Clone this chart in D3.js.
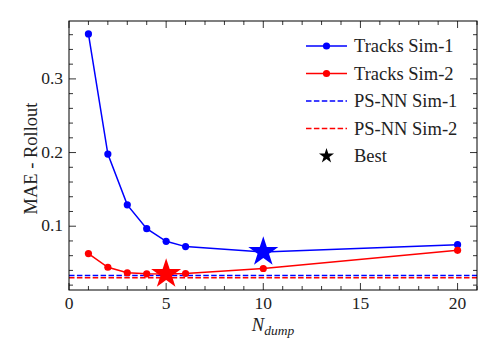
<!DOCTYPE html>
<html>
<head>
<meta charset="utf-8">
<script src="https://cdn.jsdelivr.net/npm/d3@7"></script>
<style>
  body { margin: 0; background: #fff; }
</style>
</head>
<body>
<div id="chart"></div>
<script>
var width = 498;
var height = 356;
var serif = "Liberation Serif";

// data
var nDump = [1, 2, 3, 4, 5, 6, 10, 20];
var tracksSim1 = [0.361, 0.198, 0.129, 0.0966, 0.0795, 0.0723, 0.065, 0.075];
var tracksSim2 = [0.0628, 0.0443, 0.0368, 0.0354, 0.0352, 0.0358, 0.0426, 0.0673];
var psnnSim1 = 0.0331;
var psnnSim2 = 0.0300;
var bestSim1 = { x: 10, y: 0.065 };
var bestSim2 = { x: 5, y: 0.0352 };
var xTicks = [0, 5, 10, 15, 20];
var yTicks = [0.1, 0.2, 0.3];

var margin = { left: 69, right: 21, top: 21, bottom: 66 };

var svg = d3.select('#chart')
  .append("svg")
  .attr("width", width)
  .attr("height", height);

var x = d3.scaleLinear().domain([0, 21]).range([margin.left, width - margin.right]);
var y = d3.scaleLinear().domain([0.0134, 0.3786]).range([height - margin.bottom, margin.top]);

var x0 = x.range()[0], x1 = x.range()[1];
var y0 = y.range()[0], y1 = y.range()[1];

svg.append("defs").append("clipPath").attr("id", "clip")
  .append("rect")
  .attr("x", x0).attr("y", y1)
  .attr("width", x1 - x0).attr("height", y0 - y1);

//ticks on all four sides, pointing in
var xMinor = d3.range(0, 22, 1).filter(function(d) { return d % 5 != 0; });
var yMinor = d3.range(0.02, 0.38, 0.02).filter(function(d) { return Math.abs(d * 10 - Math.round(d * 10)) > 0.01; });

var ticks = svg.append("g").attr("stroke", "#000").attr("stroke-width", 0.8);
function xTickLines(vals, len) {
  vals.forEach(function(v) {
    ticks.append("line").attr("x1", x(v)).attr("x2", x(v)).attr("y1", y0).attr("y2", y0 - len);
    ticks.append("line").attr("x1", x(v)).attr("x2", x(v)).attr("y1", y1).attr("y2", y1 + len);
  });
}
function yTickLines(vals, len) {
  vals.forEach(function(v) {
    ticks.append("line").attr("y1", y(v)).attr("y2", y(v)).attr("x1", x0).attr("x2", x0 + len);
    ticks.append("line").attr("y1", y(v)).attr("y2", y(v)).attr("x1", x1).attr("x2", x1 - len);
  });
}
xTickLines(xTicks, 7);
xTickLines(xMinor, 4);
yTickLines(yTicks, 7);
yTickLines(yMinor.filter(function(d) { return d > 0.0134 && d < 0.3786; }), 4);

//tick labels
svg.append("g").selectAll("text").data(xTicks).enter().append("text")
  .attr("x", function(d) { return x(d); })
  .attr("y", y0 + 19)
  .attr("text-anchor", "middle")
  .attr("font-family", serif)
  .attr("font-size", 17.5)
  .attr("fill", "#222")
  .text(function(d) { return d; });

svg.append("g").selectAll("text").data(yTicks).enter().append("text")
  .attr("x", x0 - 6)
  .attr("y", function(d) { return y(d) + 5; })
  .attr("text-anchor", "end")
  .attr("font-family", serif)
  .attr("font-size", 17.5)
  .attr("fill", "#222")
  .text(function(d) { return d3.format(".1f")(d); });

//axis titles
var xl = svg.append("text")
  .attr("x", (x0 + x1) / 2)
  .attr("y", y0 + 41)
  .attr("text-anchor", "middle")
  .attr("font-family", serif)
  .attr("font-size", 18.5)
  .attr("fill", "#222")
  .attr("font-style", "italic");
xl.append("tspan").text("N");
xl.append("tspan").attr("font-size", 13.5).attr("dy", 4).text("dump");

svg.append("text")
  .attr("transform", "translate(" + 37 + "," + ((y0 + y1) / 2 + 3) + ") rotate(-90)")
  .attr("text-anchor", "middle")
  .attr("font-family", serif)
  .attr("font-size", 18.5)
  .attr("fill", "#222")
  .text("MAE - Rollout");

var plot = svg.append("g").attr("clip-path", "url(#clip)");

//reference lines
plot.append("line")
  .attr("x1", x0).attr("x2", x1).attr("y1", y(psnnSim1)).attr("y2", y(psnnSim1))
  .attr("stroke", "blue").attr("stroke-width", 1.5).attr("stroke-dasharray", "5.5,2.4");
plot.append("line")
  .attr("x1", x0).attr("x2", x1).attr("y1", y(psnnSim2)).attr("y2", y(psnnSim2))
  .attr("stroke", "red").attr("stroke-width", 1.5).attr("stroke-dasharray", "5.5,2.4");

var line = d3.line()
  .x(function(d, i) { return x(nDump[i]); })
  .y(function(d) { return y(d); });

function series(vals, colour) {
  plot.append("path")
    .datum(vals)
    .attr("d", line)
    .attr("fill", "none")
    .attr("stroke", colour)
    .attr("stroke-width", 1.5);
  plot.selectAll(null).data(vals).enter().append("circle")
    .attr("cx", function(d, i) { return x(nDump[i]); })
    .attr("cy", function(d) { return y(d); })
    .attr("r", 3.6)
    .attr("fill", colour);
}
series(tracksSim1, "blue");
series(tracksSim2, "red");

var star = d3.symbol().type(d3.symbolStar);
plot.append("path")
  .attr("d", star.size(280)())
  .attr("transform", "translate(" + x(bestSim1.x) + "," + y(bestSim1.y) + ")")
  .attr("fill", "blue");
plot.append("path")
  .attr("d", star.size(280)())
  .attr("transform", "translate(" + x(bestSim2.x) + "," + y(bestSim2.y) + ")")
  .attr("fill", "red");

//frame
svg.append("rect")
  .attr("x", x0).attr("y", y1)
  .attr("width", x1 - x0).attr("height", y0 - y1)
  .attr("fill", "none").attr("stroke", "#000").attr("stroke-width", 1);

//legend
var legendItems = [
  { label: "Tracks Sim-1", colour: "blue", kind: "marker" },
  { label: "Tracks Sim-2", colour: "red", kind: "marker" },
  { label: "PS-NN Sim-1", colour: "blue", kind: "dash" },
  { label: "PS-NN Sim-2", colour: "red", kind: "dash" },
  { label: "Best", colour: "#000", kind: "star" }
];
var legend = svg.append("g").attr("class", "legendWrapper");
legendItems.forEach(function(d, i) {
  var ly = 46 + i * 27.5;
  if (d.kind != "star") {
    legend.append("line")
      .attr("x1", 306).attr("x2", 347).attr("y1", ly).attr("y2", ly)
      .attr("stroke", d.colour).attr("stroke-width", 1.5)
      .attr("stroke-dasharray", d.kind == "dash" ? "5.5,2.4" : null);
  }
  if (d.kind == "marker") {
    legend.append("circle").attr("cx", 326.5).attr("cy", ly).attr("r", 3.6).attr("fill", d.colour);
  }
  if (d.kind == "star") {
    legend.append("path").attr("d", star.size(70)())
      .attr("transform", "translate(326.5," + ly + ")").attr("fill", "#000");
  }
  legend.append("text")
    .attr("x", 354).attr("y", ly + 6)
    .attr("font-family", serif)
    .attr("font-size", 18.5)
    .attr("fill", "#222")
    .text(d.label);
});
</script>
</body>
</html>
